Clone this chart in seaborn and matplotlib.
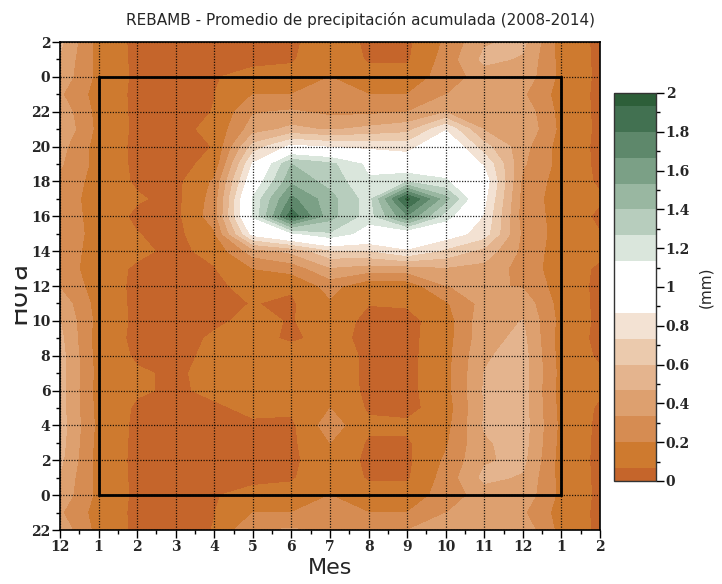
import numpy as np
import pandas as pd
import seaborn as sns
import matplotlib
matplotlib.use("Agg")
import matplotlib.pyplot as plt
from matplotlib.patches import Rectangle
from matplotlib.transforms import Bbox, TransformedBbox
from matplotlib.ticker import FixedLocator, MultipleLocator

# ---------------- data: mean accumulated precipitation (mm), hour 0..23 per month
hours = list(range(24))
month_names = ["ene", "feb", "mar", "abr", "may", "jun", "jul", "ago", "sep", "oct", "nov", "dic"]
ene = [0.16,0.15,0.14,0.15,0.16,0.15,0.14,0.15,0.14,0.13,0.15,0.14,0.13,0.12,0.12,0.14,0.15,0.13,0.14,0.15,0.14,0.16,0.15,0.14]
feb = [0.04,0.04,0.04,0.04,0.04,0.05,0.08,0.08,0.05,0.04,0.04,0.04,0.04,0.05,0.09,0.07,0.04,0.08,0.05,0.04,0.04,0.04,0.04,0.04]
mar = [0.03,0.03,0.03,0.03,0.03,0.04,0.05,0.05,0.04,0.03,0.03,0.03,0.03,0.03,0.04,0.03,0.03,0.03,0.03,0.03,0.03,0.04,0.03,0.03]
abr = [0.06,0.04,0.04,0.04,0.04,0.05,0.09,0.10,0.09,0.08,0.05,0.04,0.04,0.06,0.10,0.18,0.27,0.25,0.22,0.10,0.07,0.09,0.07,0.065]
may = [0.10,0.04,0.04,0.04,0.05,0.09,0.11,0.11,0.11,0.10,0.09,0.07,0.11,0.20,0.40,0.92,1.15,1.15,1.00,0.88,0.65,0.40,0.32,0.20]
jun = [0.12,0.05,0.04,0.04,0.04,0.09,0.12,0.13,0.12,0.05,0.06,0.05,0.08,0.25,0.50,1.10,1.88,1.70,1.50,1.40,0.90,0.50,0.35,0.20]
jul = [0.20,0.18,0.15,0.20,0.27,0.20,0.15,0.14,0.14,0.10,0.12,0.18,0.25,0.45,0.70,1.25,1.45,1.45,1.35,1.30,0.85,0.45,0.30,0.25]
ago = [0.12,0.05,0.04,0.05,0.09,0.05,0.04,0.04,0.04,0.04,0.04,0.07,0.10,0.40,0.72,1.05,1.20,1.20,1.15,1.10,0.82,0.50,0.30,0.20]
sep = [0.13,0.05,0.04,0.05,0.09,0.03,0.03,0.03,0.03,0.03,0.03,0.08,0.12,0.40,0.85,1.00,1.65,1.97,1.25,1.00,0.80,0.55,0.33,0.20]
oct_ = [0.25,0.25,0.22,0.18,0.15,0.13,0.15,0.15,0.15,0.14,0.13,0.18,0.33,0.45,0.70,0.95,1.20,1.45,1.15,1.05,1.05,0.85,0.45,0.33]
nov = [0.40,0.50,0.45,0.45,0.48,0.47,0.48,0.47,0.45,0.42,0.42,0.38,0.36,0.42,0.55,0.80,0.85,0.90,0.95,0.85,0.65,0.45,0.40,0.40]
dic = [0.42,0.45,0.50,0.52,0.53,0.52,0.52,0.52,0.52,0.50,0.47,0.42,0.32,0.28,0.30,0.30,0.27,0.28,0.30,0.35,0.38,0.45,0.42,0.35]

# axis labels (wrapped calendar)
x_ticklabels = ["12", "1", "2", "3", "4", "5", "6", "7", "8", "9", "10", "11", "12", "1", "2"]
y_ticklabels = ["22", "0", "2", "4", "6", "8", "10", "12", "14", "16", "18", "20", "22", "0", "2"]
cbar_ticklabels = ["0", "0.2", "0.4", "0.6", "0.8", "1", "1.2", "1.4", "1.6", "1.8", "2"]

# contour levels and colours (orange -> white -> green)
levels = [0, 1/15, 3/15, 5/15, 7/15, 9/15, 11/15, 13/15, 17/15, 19/15, 21/15, 23/15, 25/15, 27/15, 29/15, 2]
colors = ["#C5652B", "#CE7A2F", "#D68C52", "#DDA06F", "#E4B48E", "#EBCAAD", "#F3E2D3", "#FFFFFF",
          "#DAE6DC", "#B7CDBD", "#99B7A1", "#7BA086", "#5E886B", "#427151", "#2D5F39"]

# ---------------- build the wrapped grid
df = pd.DataFrame(dict(zip(month_names, [ene, feb, mar, abr, may, jun, jul, ago, sep, oct_, nov, dic])), index=hours)
months = np.arange(1, 13)
x_ext = np.arange(months[0] - 1, months[-1] + 3)          # Dec(prev) .. Feb(next)
y_ext = np.arange(hours[0] - 2, hours[-1] + 4)             # 22(prev) .. 2(next)
vals = df.values
Z = vals[np.ix_(y_ext % 24, (x_ext - 1) % 12)]
Z = np.clip(Z, 0.001, 1.999)
X, Y = np.meshgrid(x_ext, y_ext)

# ---------------- figure
sns.set_theme(style="white")
plt.rcParams["font.family"] = ["DejaVu Sans"]
W, H = 722, 584
fig = plt.figure(figsize=(W / 100, H / 100), dpi=100)
ax = fig.add_axes([60 / W, 1 - 530 / H, 540 / W, 488 / H])
cs = ax.contourf(X, Y, Z, levels=levels, colors=colors, antialiased=False)

ax.set_xlim(x_ext[0], x_ext[-1])
ax.set_ylim(y_ext[0], y_ext[-1])
ax.xaxis.set_major_locator(FixedLocator(x_ext))
ax.set_xticklabels(x_ticklabels)
ax.xaxis.set_minor_locator(MultipleLocator(0.5))
ax.yaxis.set_major_locator(FixedLocator(y_ext[::2]))
ax.set_yticklabels(y_ticklabels)
ax.yaxis.set_minor_locator(MultipleLocator(1))
for lab in ax.get_xticklabels() + ax.get_yticklabels():
    lab.set_fontfamily("DejaVu Serif"); lab.set_fontweight("bold"); lab.set_fontsize(10)
ax.tick_params(which="major", direction="out", length=6, width=1, color="black", pad=1)
ax.tick_params(which="minor", direction="out", length=3, width=1, color="black")
ax.tick_params(axis="both", which="both", bottom=True, left=True, top=False, right=False)
ax.grid(True, which="major", color="black", linestyle=(0, (1, 1.2)), linewidth=0.9, alpha=0.85)
ax.set_axisbelow(False)
for sp in ax.spines.values():
    sp.set_color("black"); sp.set_linewidth(1.2)

# box around the 12 months x 24 hours
ax.add_patch(Rectangle((months[0], hours[0]), len(months), len(hours), fill=False,
                       edgecolor="black", linewidth=2, zorder=5))

# labels
fig.text(361 / W, 1 - 20 / H, "REBAMB - Promedio de precipitación acumulada (2008-2014)",
         ha="center", va="center", fontsize=11)
fig.text(330 / W, 1 - 568 / H, "Mes", ha="center", va="center", fontsize=16)
t = fig.text(25 / W, 1 - 292 / H, "Hora", rotation=90, rotation_mode="anchor",
             ha="center", va="baseline", fontsize=19)
t.set_clip_box(TransformedBbox(Bbox([[15 / W, 0], [1, 1]]), fig.transFigure))
t.set_clip_on(True)

# colorbar
cax = fig.add_axes([614 / W, 1 - 481 / H, 42 / W, 388 / H])
cb = fig.colorbar(cs, cax=cax, spacing="proportional", ticks=np.linspace(0, 2, 11))
cb.ax.set_yticklabels(cbar_ticklabels)
cb.ax.yaxis.set_minor_locator(MultipleLocator(0.1))
cb.ax.tick_params(which="major", direction="out", length=6, width=1, color="black", pad=1)
cb.ax.tick_params(which="minor", direction="out", length=3, width=1, color="black")
for lab in cb.ax.get_yticklabels():
    lab.set_fontfamily("DejaVu Serif"); lab.set_fontweight("bold"); lab.set_fontsize(10)
cb.outline.set_linewidth(1)
cb.outline.set_edgecolor("#333333")
cb.set_label("(mm)", fontsize=11, labelpad=6)

fig.savefig("out.png", dpi=100)
